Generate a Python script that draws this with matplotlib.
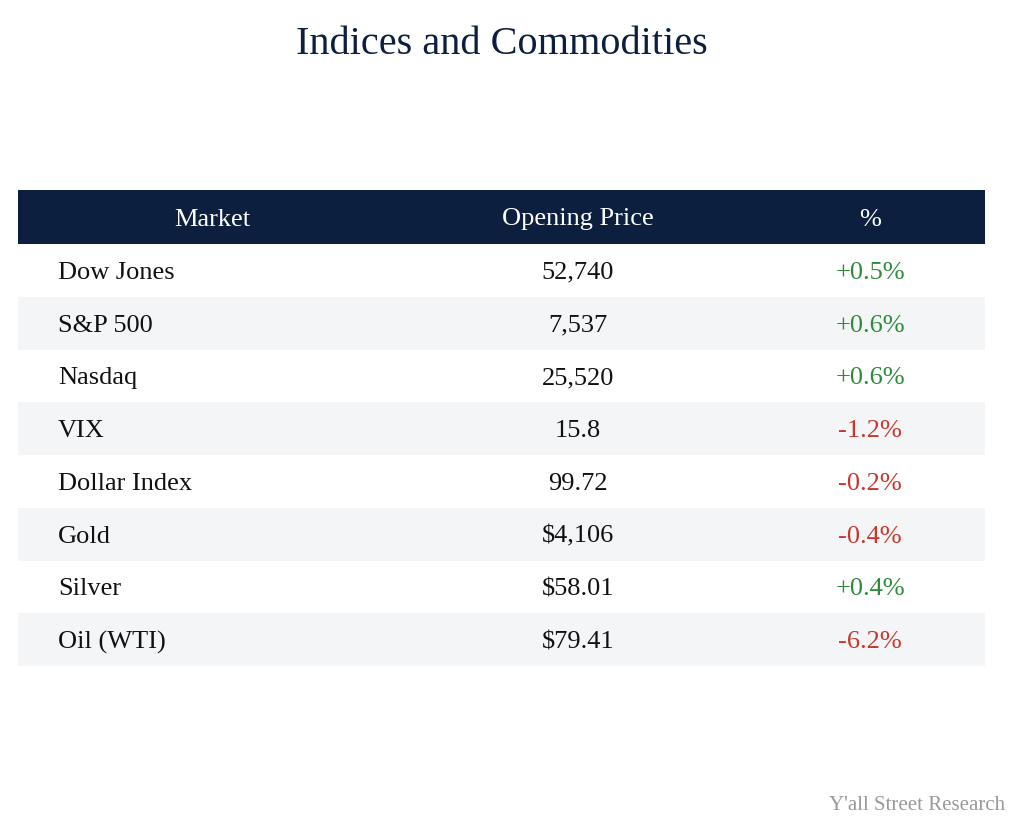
import matplotlib.pyplot as plt
from matplotlib.patches import Rectangle

plt.rcParams['font.family'] = ['Liberation Serif', 'DejaVu Serif']

headers = ["Market", "Opening Price", "%"]
markets = ["Dow Jones", "S&P 500", "Nasdaq", "VIX", "Dollar Index", "Gold", "Silver", "Oil (WTI)"]
prices = ["52,740", "7,537", "25,520", "15.8", "99.72", "$4,106", "$58.01", "$79.41"]
changes = [0.5, 0.6, 0.6, -1.2, -0.2, -0.4, 0.4, -6.2]

navy = "#0c1f3f"
green = "#2e8b3a"
red = "#c8362c"

fig = plt.figure(figsize=(10.24, 8.36), dpi=100)
ax = fig.add_axes([0, 0, 1, 1])
ax.set_xlim(0, 1024)
ax.set_ylim(836, 0)
ax.axis("off")

left, right = 18, 985
top, head_h = 190, 54
row_h = 52.75

ax.text(502, 40, "Indices and Commodities", ha="center", va="center_baseline", fontsize=29, color=navy)

ax.add_patch(Rectangle((left, top), right - left, head_h, color=navy, lw=0))
for x, h in zip([212, 578, 870], headers):
    ax.text(x, top + head_h / 2, h, ha="center", va="center_baseline", fontsize=19, color="white")

for i, (m, p, c) in enumerate(zip(markets, prices, changes)):
    y0 = top + head_h + i * row_h
    if i % 2 == 1:
        ax.add_patch(Rectangle((left, y0), right - left, row_h, color="#f4f5f7", lw=0))
    yc = y0 + row_h / 2
    ax.text(58, yc, m, ha="left", va="center_baseline", fontsize=19, color="#111111")
    ax.text(578, yc, p, ha="center", va="center_baseline", fontsize=19, color="#111111")
    ax.text(870, yc, f"{c:+.1f}%", ha="center", va="center_baseline", fontsize=19,
            color=green if c > 0 else red)

ax.text(1005, 803, "Y'all Street Research", ha="right", va="center_baseline", fontsize=15, color="#999999")

fig.savefig("out.png", dpi=100)
